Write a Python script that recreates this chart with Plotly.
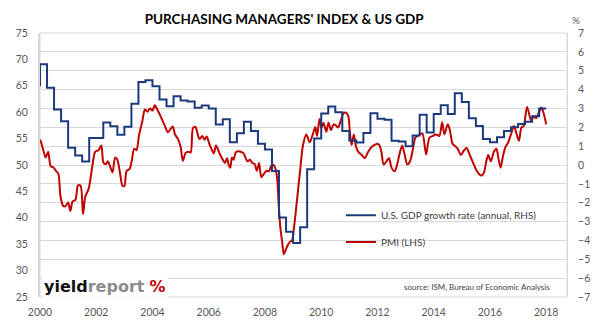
import plotly.graph_objects as go

# ISM manufacturing PMI (left axis), sampled points in decimal years
pmi_t = [2000.00, 2000.04, 2000.12, 2000.20, 2000.29, 2000.38, 2000.49, 2000.58, 2000.65, 2000.73,
         2000.82, 2000.91, 2001.00, 2001.08, 2001.16, 2001.26, 2001.35, 2001.44, 2001.53, 2001.61,
         2001.73, 2001.87, 2001.96, 2002.08, 2002.18, 2002.26, 2002.35, 2002.41, 2002.49, 2002.58,
         2002.67, 2002.75, 2002.85, 2002.93, 2003.00, 2003.08, 2003.18, 2003.26, 2003.35, 2003.43,
         2003.52, 2003.64, 2003.73, 2003.82, 2003.91, 2004.00, 2004.08, 2004.18, 2004.29, 2004.44,
         2004.55, 2004.64, 2004.72, 2004.80, 2004.90, 2005.00, 2005.08, 2005.18, 2005.28, 2005.36,
         2005.44, 2005.53, 2005.60, 2005.67, 2005.77, 2005.85, 2005.93, 2006.02, 2006.10, 2006.18,
         2006.26, 2006.34, 2006.41, 2006.50, 2006.58, 2006.65, 2006.71, 2006.77, 2006.82, 2006.88,
         2006.96, 2007.05, 2007.14, 2007.24, 2007.32, 2007.38, 2007.47, 2007.55, 2007.63, 2007.71,
         2007.79, 2007.87, 2007.96, 2008.06, 2008.14, 2008.22, 2008.30, 2008.38, 2008.44, 2008.49,
         2008.55, 2008.61, 2008.67, 2008.73, 2008.79, 2008.88, 2008.96, 2009.04, 2009.14, 2009.26,
         2009.35, 2009.47, 2009.59, 2009.70, 2009.79, 2009.85, 2009.94, 2010.01, 2010.08, 2010.18,
         2010.26, 2010.35, 2010.44, 2010.52, 2010.60, 2010.69, 2010.79, 2010.88, 2010.96, 2011.02,
         2011.08, 2011.16, 2011.24, 2011.32, 2011.44, 2011.55, 2011.67, 2011.79, 2011.97, 2012.06,
         2012.14, 2012.22, 2012.32, 2012.41, 2012.50, 2012.61, 2012.70, 2012.79, 2012.88, 2012.97,
         2013.06, 2013.16, 2013.26, 2013.35, 2013.43, 2013.52, 2013.60, 2013.73, 2013.85, 2013.97,
         2014.08, 2014.20, 2014.30, 2014.38, 2014.50, 2014.58, 2014.67, 2014.76, 2014.85, 2014.97,
         2015.08, 2015.17, 2015.26, 2015.38, 2015.50, 2015.61, 2015.71, 2015.79, 2015.87, 2015.94,
         2016.03, 2016.14, 2016.23, 2016.30, 2016.38, 2016.46, 2016.55, 2016.65, 2016.77, 2016.85,
         2016.93, 2017.03, 2017.12, 2017.20, 2017.32, 2017.47, 2017.55, 2017.64, 2017.73, 2017.83,
         2017.91, 2018.00]
pmi_v = [54.8, 54.3, 52.8, 51.4, 52.5, 49.8, 49.5, 48.8, 48.4, 44.0,
         42.3, 42.2, 42.9, 41.3, 43.1, 43.4, 46.1, 46.1, 40.7, 44.0,
         45.5, 50.1, 52.5, 52.8, 53.7, 50.4, 50.2, 50.7, 49.8, 48.6,
         51.4, 51.0, 48.3, 46.1, 46.0, 48.9, 49.2, 50.7, 53.1, 52.8,
         55.6, 58.3, 60.5, 60.1, 60.7, 60.3, 61.3, 60.4, 59.2, 57.4,
         56.2, 56.8, 57.3, 55.8, 55.0, 53.4, 50.8, 52.3, 52.5, 52.4,
         57.0, 57.2, 56.0, 54.9, 55.5, 54.8, 55.4, 54.0, 53.0, 52.2,
         53.7, 52.8, 51.9, 51.0, 50.4, 51.3, 50.0, 49.5, 51.4, 51.0,
         52.4, 52.6, 52.5, 52.2, 51.2, 50.7, 51.0, 50.4, 50.2, 48.9,
         50.4, 47.7, 48.3, 48.9, 48.8, 49.8, 50.0, 49.2, 47.1, 42.2,
         38.0, 35.5, 33.1, 33.8, 34.6, 35.4, 35.7, 38.5, 43.4, 49.5,
         53.7, 55.8, 54.3, 55.8, 57.2, 55.5, 58.7, 57.0, 58.0, 56.3,
         58.0, 56.6, 57.7, 57.5, 57.1, 58.3, 59.8, 59.9, 59.3, 56.2,
         53.8, 55.8, 53.4, 52.5, 51.9, 51.3, 52.5, 53.4, 54.0, 53.8,
         52.5, 50.1, 50.7, 51.3, 49.5, 48.8, 50.1, 52.2, 53.7, 51.9,
         50.1, 50.7, 53.0, 55.2, 55.5, 55.8, 56.0, 52.0, 55.2, 55.5,
         55.8, 55.5, 58.1, 55.8, 57.7, 56.5, 54.0, 53.6, 53.1, 51.9,
         52.8, 53.2, 52.2, 50.7, 49.2, 48.3, 48.0, 48.6, 50.7, 51.9,
         50.7, 52.5, 53.1, 51.3, 49.5, 51.6, 53.4, 54.3, 56.2, 57.4,
         56.2, 54.6, 57.1, 57.4, 61.0, 58.3, 59.2, 58.9, 59.8, 60.9,
         59.8, 57.7]

# U.S. real GDP, annual growth rate by quarter (right axis), 1999Q4 .. 2017Q4,
# dated at quarter end
gdp_t = [2000.0 + 0.25 * i for i in range(73)]
gdp_v = [4.18,
         5.34, 4.10, 2.94, 2.32,
         0.91, 0.50, 0.19, 1.43,
         1.43, 2.26, 2.06, 1.60,
         2.03, 3.25, 4.40, 4.50,
         4.18, 3.47, 3.12, 3.64,
         3.42, 3.37, 3.04, 3.16,
         2.99, 2.15, 2.42, 1.21,
         1.69, 2.30, 1.80, 1.13,
         0.82, -0.32, -2.78, -3.54,
         -4.13, -3.30, -0.22, 1.40,
         2.73, 3.10, 2.80, 1.80,
         1.30, 1.19, 1.70, 2.75,
         2.45, 2.40, 1.28, 1.25,
         1.00, 1.56, 2.66, 1.73,
         2.70, 3.17, 2.70, 3.80,
         3.34, 2.48, 2.07, 1.38,
         1.20, 1.47, 1.80, 2.00,
         2.18, 2.30, 2.58, 3.00]

x_ticks = [2000, 2002, 2004, 2006, 2008, 2010, 2012, 2014, 2016, 2018]
pmi_ticks = [25, 30, 35, 40, 45, 50, 55, 60, 65, 70, 75]
gdp_ticks = list(range(-7, 8))

RED = "#C00000"
BLUE = "#1B3A7E"
GRID = "#D9D9D9"
LABEL = "#595959"
FONT = "Lato"

fig = go.Figure()

fig.add_trace(go.Scatter(
    x=pmi_t, y=pmi_v, mode="lines", name="PMI (LHS)",
    line=dict(color=RED, width=2, shape="spline", smoothing=0.8),
    yaxis="y", legend="legend2", hoverinfo="skip"))

fig.add_trace(go.Scatter(
    x=gdp_t, y=gdp_v, mode="lines", name="U.S. GDP growth rate (annual, RHS)",
    line=dict(color=BLUE, width=2, shape="vh"),
    yaxis="y2", legend="legend", hoverinfo="skip"))

tick_font = dict(family=FONT, size=10.5, color=LABEL)

fig.update_layout(
    width=602, height=330,
    margin=dict(l=40, r=31, t=33, b=22),
    paper_bgcolor="white", plot_bgcolor="white",
    font=dict(family=FONT, color=LABEL),
    title=dict(text="PURCHASING MANAGERS' INDEX & US GDP",
               font=dict(family=FONT, size=13.5, color="black", weight=700),
               x=0.472, xanchor="center", y=0.942, yanchor="middle"),
    xaxis=dict(range=[2000, 2018.74], tickvals=x_ticks,
               ticktext=[str(v) for v in x_ticks],
               showgrid=False, zeroline=False, showline=False, ticks="",
               tickfont=tick_font, ticklabelstandoff=7),
    yaxis=dict(range=[25, 75], tickvals=pmi_ticks, showgrid=False, zeroline=False,
               showline=True, linecolor=GRID, linewidth=2, ticks="",
               tickfont=tick_font, ticklabelstandoff=8),
    yaxis2=dict(range=[-7, 7], tickvals=gdp_ticks, overlaying="y", side="right",
                showgrid=True, gridcolor=GRID, gridwidth=1, zeroline=False,
                showline=True, linecolor=GRID, linewidth=1, ticks="",
                tickfont=tick_font, ticklabelstandoff=8),
    legend=dict(x=0.571, y=0.31, xanchor="left", yanchor="middle",
                bgcolor="rgba(0,0,0,0)", itemwidth=30,
                font=dict(family=FONT, size=10, color="#404040")),
    legend2=dict(x=0.571, y=0.208, xanchor="left", yanchor="middle",
                 bgcolor="rgba(0,0,0,0)", itemwidth=30,
                 font=dict(family=FONT, size=10, color="#404040")),
    showlegend=True,
)

# thin frame around the plot area
fig.add_shape(type="rect", xref="paper", yref="paper", x0=0, x1=1, y0=0, y1=1,
              line=dict(color=GRID, width=1), layer="below")

fig.add_annotation(text="%", xref="paper", yref="paper", x=1.028, y=1.08,
                   showarrow=False, font=dict(family=FONT, size=10, color=LABEL))

fig.add_annotation(
    text="<b>yield</b><span style='color:#8C8C8C'><b>report</b></span> "
         "<span style='color:#C00000'><b>%</b></span>",
    xref="paper", yref="paper", x=0.003, y=0.04, xanchor="left", yanchor="middle",
    showarrow=False, bgcolor="white", borderpad=1,
    font=dict(family="DejaVu Sans", size=16, color="#111111"))

fig.add_annotation(text="source: ISM, Bureau of Economic Analysis",
                   xref="paper", yref="paper", x=0.972, y=0.036,
                   xanchor="right", yanchor="middle", showarrow=False,
                   font=dict(family=FONT, size=8, color="#404040"))

fig.write_html("out.html")
